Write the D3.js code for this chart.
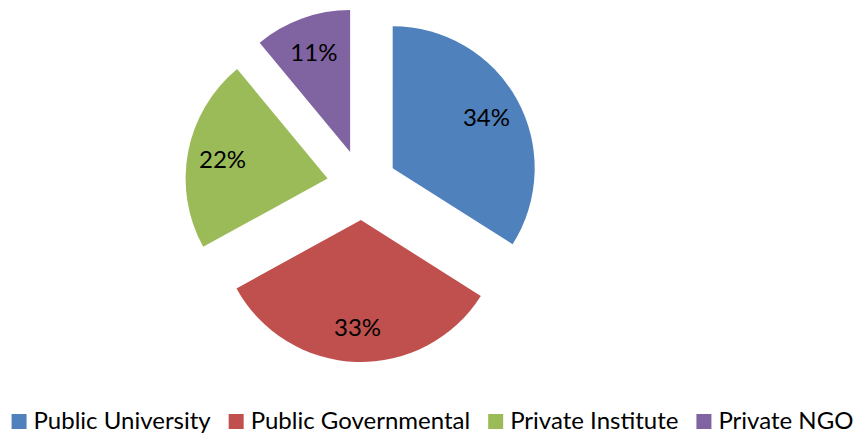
<!DOCTYPE html>
<html>
<head>
<meta charset="utf-8">
<script src="https://cdn.jsdelivr.net/npm/d3@7"></script>
<style>
  html, body { margin: 0; padding: 0; background: #fff; }
  svg { display: block; }
  text { font-family: Lato, "Open Sans", sans-serif; fill: #000; }
</style>
</head>
<body>
<svg id="chart" width="865" height="437"></svg>
<script>
const categories = ["Public University", "Public Governmental", "Private Institute", "Private NGO"];
const values = [34, 33, 22, 11];
const labels = ["34%", "33%", "22%", "11%"];
const colors = ["#4F81BD", "#C0504D", "#9BBB59", "#8064A2"];

const W = 865, H = 437;
const cx = 362, cy = 185, R = 142, explode = 35, labelR = 107;

const svg = d3.select("#chart");
const data = categories.map((c, i) => ({ name: c, value: values[i], label: labels[i], color: colors[i] }));

const pie = d3.pie().value(d => d.value).sort(null).startAngle(0).endAngle(2 * Math.PI);
const arc = d3.arc().innerRadius(0).outerRadius(R);
const arcs = pie(data);

const g = svg.append("g").attr("transform", `translate(${cx},${cy})`);

const slice = g.selectAll("g.slice").data(arcs).enter().append("g")
  .attr("class", "slice")
  .attr("transform", d => {
    const a = (d.startAngle + d.endAngle) / 2;
    return `translate(${explode * Math.sin(a)},${-explode * Math.cos(a)})`;
  });

slice.append("path").attr("d", arc).attr("fill", d => d.data.color);

slice.append("text")
  .attr("x", d => labelR * Math.sin((d.startAngle + d.endAngle) / 2))
  .attr("y", d => -labelR * Math.cos((d.startAngle + d.endAngle) / 2))
  .attr("text-anchor", "middle")
  .attr("dominant-baseline", "central")
  .style("font-size", "24px")
  .text(d => d.data.label);

// Legend
const legend = svg.append("g");
const items = legend.selectAll("g.item").data(data).enter().append("g").attr("class", "item");
items.append("rect").attr("width", 15).attr("height", 15).attr("y", -15).attr("fill", d => d.color);
items.append("text").attr("x", 22).attr("y", 0).style("font-size", "24px").text(d => d.name);

const gap = 18;
let x = 0;
items.each(function () {
  const node = d3.select(this);
  node.attr("transform", `translate(${x},0)`);
  const tw = node.select("text").node().getComputedTextLength();
  x += 22 + tw + gap;
});
const total = x - gap;
legend.attr("transform", `translate(${(W - total) / 2},429)`);
</script>
</body>
</html>
